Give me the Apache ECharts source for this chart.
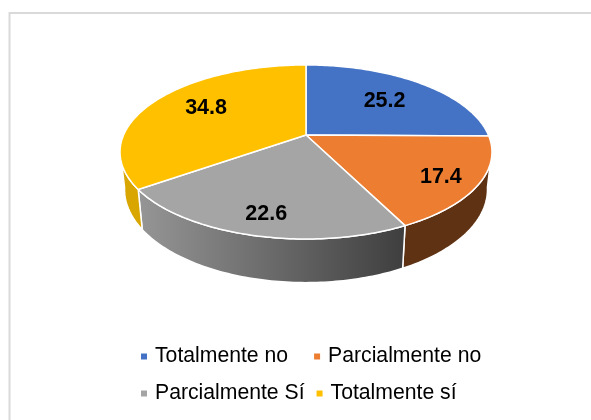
<!DOCTYPE html>
<html>
<head>
<meta charset="utf-8">
<title>Pie</title>
<style>
  html, body { margin: 0; padding: 0; background: #fff; }
  #chart { width: 591px; height: 420px; }
</style>
<script src="https://cdn.jsdelivr.net/npm/echarts@6/dist/echarts.min.js"></script>
</head>
<body>
<div id="chart"></div>
<script>
const categories = ["Totalmente no", "Parcialmente no", "Parcialmente Sí", "Totalmente sí"];
const values = [25.2, 17.4, 22.6, 34.8];
const topColors = ["#4472c4", "#ed7d31", "#a5a5a5", "#ffc000"];

/* perspective view of the disc: apex of the top face and of the bottom face */
const TOP_FACE = { x: 306, y: 135, a: 182.4, b: 83.7, k: 0.195 };
const BOTTOM_FACE = { x: 306, y: 171.2, a: 178, b: 89.7, k: 0.195 };
/* the side wall is only visible between these angles */
const WALL_FROM = 100;
const WALL_TO = 260;
/* hand nudges for the value labels, in px */
const LABEL_NUDGE = [[0, 2], [0, 3], [2, 3], [1, -3]];

const total = values.reduce(function (s, v) { return s + v; }, 0);

function project(face, deg, r) {
  const t = deg * Math.PI / 180;
  const u = Math.sin(t) * r;
  const v = -Math.cos(t) * r;
  const d = 1 - face.k * v;
  return [face.x + face.a * u / d, face.y + face.b * v / d];
}

function arc(face, from, to) {
  const pts = [];
  const steps = Math.max(2, Math.ceil(Math.abs(to - from)));
  for (let i = 0; i <= steps; i++) {
    pts.push(project(face, from + (to - from) * i / steps, 1));
  }
  return pts;
}

function wallFill(i) {
  if (i === 1) return "#5f3214";
  if (i === 3) return "#d9a600";
  if (i === 2) {
    return new echarts.graphic.LinearGradient(0, 0, 1, 0, [
      { offset: 0, color: "#969696" },
      { offset: 1, color: "#3e3e3e" },
    ]);
  }
  return null;
}

function sliceRenderer(i) {
  const start = values.slice(0, i).reduce(function (s, v) { return s + v; }, 0) / total * 360;
  const end = start + values[i] / total * 360;
  const mid = (start + end) / 2;
  return function () {
    const children = [];
    const from = Math.max(start, WALL_FROM);
    const to = Math.min(end, WALL_TO);
    if (from < to) {
      children.push({
        type: "polygon",
        z2: 1,
        shape: { points: arc(TOP_FACE, from, to).concat(arc(BOTTOM_FACE, to, from)) },
        style: { fill: wallFill(i), stroke: "#fff", lineWidth: 1.5 },
      });
    }
    children.push({
      type: "polygon",
      z2: 2,
      shape: { points: [[TOP_FACE.x, TOP_FACE.y]].concat(arc(TOP_FACE, start, end)) },
      style: { fill: topColors[i], stroke: "#fff", lineWidth: 1.5, lineJoin: "round" },
    });
    /* front labels sit further out than the back ones */
    const labelAt = project(TOP_FACE, mid, Math.cos(mid * Math.PI / 180) < 0 ? 0.8 : 0.66);
    children.push({
      type: "text",
      z2: 3,
      x: labelAt[0] + LABEL_NUDGE[i][0],
      y: labelAt[1] + LABEL_NUDGE[i][1],
      style: {
        text: values[i].toFixed(1),
        fill: "#000",
        font: "bold 21.5px 'Liberation Sans', Arial, sans-serif",
        align: "center",
        verticalAlign: "middle",
      },
    });
    return { type: "group", children: children };
  };
}

const legendText = { fontFamily: "'Liberation Sans', Arial, sans-serif", fontSize: 21.2, color: "#000", padding: [0, 0, 0, 3] };

const chart = echarts.init(document.getElementById("chart"), null, { renderer: "canvas" });
chart.setOption({
  animation: false,
  backgroundColor: "#fff",
  color: topColors,
  legend: [
    { data: categories.slice(0, 2), left: 136, top: 341, icon: "rect", itemWidth: 6, itemHeight: 6, itemGap: 26, textStyle: legendText, selectedMode: false },
    { data: categories.slice(2), left: 136, top: 378, icon: "rect", itemWidth: 6, itemHeight: 6, itemGap: 12, textStyle: legendText, selectedMode: false },
  ],
  graphic: [
    { type: "rect", silent: true, shape: { x: 9, y: 12, width: 582, height: 2 }, style: { fill: "#d9d9d9" } },
    { type: "rect", silent: true, shape: { x: 8.5, y: 12, width: 2, height: 408 }, style: { fill: "#d9d9d9" } },
  ],
  series: categories.map(function (name, i) {
    return { type: "custom", name: name, coordinateSystem: "none", silent: true, data: [values[i]], renderItem: sliceRenderer(i) };
  }),
});
</script>
</body>
</html>
